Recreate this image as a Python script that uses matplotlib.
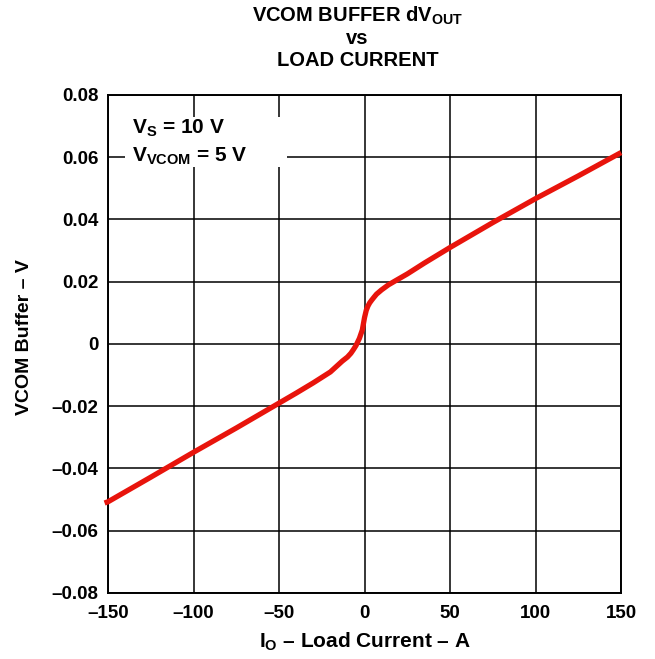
import matplotlib
matplotlib.use("Agg")
import matplotlib.pyplot as plt
from matplotlib.patches import Rectangle

plt.rcParams["font.family"] = ["Liberation Sans", "DejaVu Sans"]
plt.rcParams["font.weight"] = "bold"
plt.rcParams["axes.labelweight"] = "bold"
plt.rcParams["mathtext.fontset"] = "custom"
plt.rcParams["mathtext.rm"] = "Liberation Sans:bold"
plt.rcParams["mathtext.bf"] = "Liberation Sans:bold"
plt.rcParams["mathtext.default"] = "bf"

# load current (A) and buffer output change (V)
current = [-152, -150, -125, -100, -75, -50, -40, -30, -20, -13, -10, -8,
           -6.5, -5, -3, -1.3, 0, 1, 2, 3, 4.2, 5.5, 7, 10, 14, 19, 25, 35,
           50, 75, 100, 125, 150]
dvout = [-0.0511, -0.0507, -0.0428, -0.0348, -0.0270, -0.0190, -0.0158,
         -0.0125, -0.0090, -0.0055, -0.0042, -0.0030, -0.0018, -0.0005,
         0.0018, 0.0045, 0.0085, 0.0108, 0.0122, 0.0132, 0.0141, 0.0150,
         0.0160, 0.0174, 0.0190, 0.0206, 0.0225, 0.0260, 0.0310, 0.0390,
         0.0467, 0.0540, 0.0615]

xticks = [-150, -100, -50, 0, 50, 100, 150]
xlabels = ["\u2013150", "\u2013100", "\u201350", "0", "50", "100", "150"]
yticks = [-0.08, -0.06, -0.04, -0.02, 0, 0.02, 0.04, 0.06, 0.08]
ylabels = ["\u20130.08", "\u20130.06", "\u20130.04", "\u20130.02", "0",
           "0.02", "0.04", "0.06", "0.08"]
title_lines = ["VCOM BUFFER d$V_{OUT}$", "vs", "LOAD CURRENT"]
cond_lines = ["$V_{S}$ = 10 V", "$V_{VCOM}$ = 5 V"]

fig = plt.figure(figsize=(6.55, 6.59), dpi=100)
ax = fig.add_axes([0.1649, 0.1002, 0.7833, 0.7557])

ax.plot(current, dvout, color="#e8140c", linewidth=3.8, solid_capstyle="butt",
        solid_joinstyle="round", zorder=3, clip_on=False)

ax.set_xlim(-150, 150)
ax.set_ylim(-0.08, 0.08)
ax.set_xticks(xticks)
ax.set_xticklabels(xlabels)
ax.set_yticks(yticks)
ax.set_yticklabels(ylabels)
ax.tick_params(length=0, labelsize=13.5)
ax.tick_params(axis="y", pad=7)
ax.tick_params(axis="x", pad=9)
ax.grid(True, color="black", linewidth=1.1)
for s in ax.spines.values():
    s.set_linewidth(1.4)

# white patch behind the conditions text
ax.add_patch(Rectangle((0.033, 0.855), 0.316, 0.1, transform=ax.transAxes,
                       facecolor="white", edgecolor="none", zorder=2.5))
ax.text(0.047, 0.922, cond_lines[0], transform=ax.transAxes, fontsize=15,
        va="baseline", ha="left", zorder=4)
ax.text(0.047, 0.866, cond_lines[1], transform=ax.transAxes, fontsize=15,
        va="baseline", ha="left", zorder=4)

ax.set_xlabel("$I_{O}$ \u2013 Load Current \u2013 A", fontsize=15)
ax.xaxis.set_label_coords(0.5, -0.11)
ax.xaxis.label.set_va("baseline")
ax.set_ylabel("VCOM Buffer \u2013 V", fontsize=14)
ax.yaxis.set_label_coords(-0.163, 0.514)
ax.yaxis.label.set_va("center")

for i, line in enumerate(title_lines):
    fig.text(0.546, 1 - (22 + 22 * i) / 659, line, ha="center", va="baseline",
             fontsize=14.5)

fig.savefig("out.png", dpi=100)
